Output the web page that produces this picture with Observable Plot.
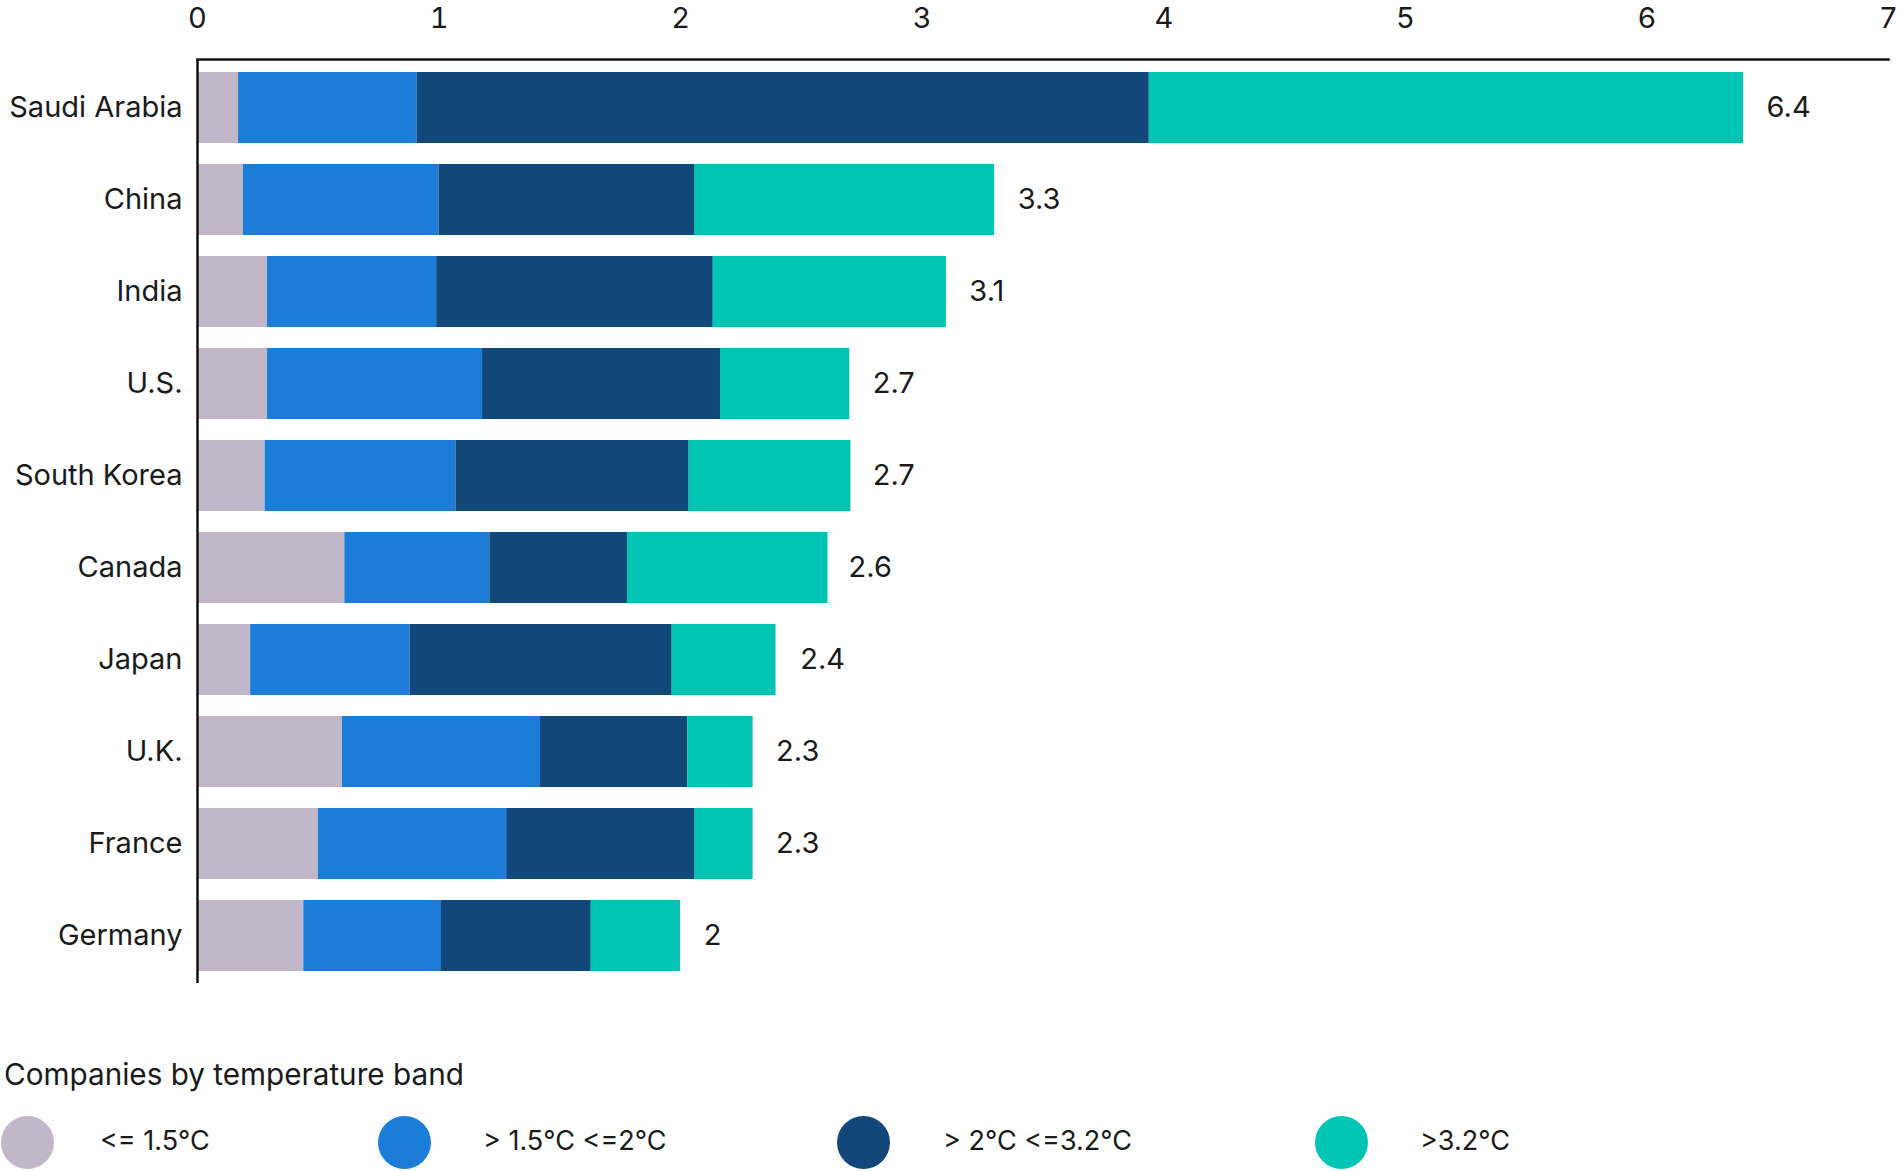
<!DOCTYPE html>
<html>
<head>
<meta charset="utf-8">
<script src="https://cdn.jsdelivr.net/npm/d3@7"></script>
<script src="https://cdn.jsdelivr.net/npm/@observablehq/plot@0.6"></script>
<style>
  html, body { margin: 0; padding: 0; background: #fff; }
  body { width: 1900px; height: 1171px; position: relative; overflow: hidden; font-family: Inter, "Noto Sans", sans-serif; color: #1a1a1a; }
  #chart { position: absolute; left: 0; top: 0; }
  .legend-title { position: absolute; left: 4px; top: 1060px; font-size: 29.7px; line-height: 1; white-space: nowrap; }
  .dot { position: absolute; width: 53px; height: 53px; border-radius: 50%; top: 1116px; }
  .lab { position: absolute; font-size: 27px; line-height: 1; top: 1127px; white-space: nowrap; }
</style>
</head>
<body>
<div id="chart"></div>
<div id="legend"></div>
<script>
const countries = ["Saudi Arabia", "China", "India", "U.S.", "South Korea", "Canada", "Japan", "U.K.", "France", "Germany"];
const bands = ["<= 1.5°C", "> 1.5°C <=2°C", "> 2°C <=3.2°C", ">3.2°C"];
const bandColors = ["#c2b7c8", "#1c7dd9", "#12477a", "#00c4b4"];
const band1 = [0.17, 0.19, 0.29, 0.29, 0.28, 0.61, 0.22, 0.60, 0.50, 0.44];
const band2 = [0.74, 0.81, 0.70, 0.89, 0.79, 0.60, 0.66, 0.82, 0.78, 0.57];
const band3 = [3.03, 1.06, 1.145, 0.985, 0.965, 0.57, 1.085, 0.61, 0.78, 0.62];
const band4 = [2.46, 1.24, 0.965, 0.535, 0.67, 0.83, 0.43, 0.27, 0.24, 0.37];
const totals = [6.4, 3.3, 3.1, 2.7, 2.7, 2.6, 2.4, 2.3, 2.3, 2];
const xTicks = [0, 1, 2, 3, 4, 5, 6, 7];

const series = [band1, band2, band3, band4];
const rows = [];
countries.forEach((c, i) => {
  series.forEach((s, j) => rows.push({country: c, band: bands[j], value: s[i]}));
});
const totalRows = countries.map((c, i) => ({country: c, total: totals[i]}));

const font = "Inter, 'Noto Sans', sans-serif";
const chart = Plot.plot({
  width: 1900,
  height: 990,
  marginTop: 59,
  marginBottom: 7,
  marginLeft: 197,
  marginRight: 12,
  style: {fontFamily: font, fontSize: "29px", color: "#1a1a1a", background: "#fff", overflow: "visible"},
  x: {domain: [0, 7], axis: null},
  y: {domain: countries, paddingInner: 0.23, paddingOuter: 0.115, axis: null},
  color: {domain: bands, range: bandColors},
  marks: [
    Plot.barX(rows, {y: "country", x: "value", fill: "band"}),
    Plot.axisX({anchor: "top", ticks: xTicks, tickSize: 0, tickPadding: 32, tickFormat: d => String(d), fontSize: 29, label: null}),
    Plot.axisY({tickSize: 0, tickPadding: 15, fontSize: 29, label: null}),
    Plot.text(totalRows, {y: "country", x: "total", text: d => String(d.total), textAnchor: "start", dx: 23, fontSize: 29, fill: "#1a1a1a"}),
    Plot.ruleX([0], {stroke: "#111", strokeWidth: 2.5}),
    Plot.frame({anchor: "top", stroke: "#111", strokeWidth: 2.5})
  ]
});
document.getElementById("chart").appendChild(chart);

const legend = document.getElementById("legend");
const title = document.createElement("div");
title.className = "legend-title";
title.textContent = "Companies by temperature band";
legend.appendChild(title);
const dotCenters = [27.5, 404.5, 863.5, 1341];
const labelLefts = [100, 483, 943, 1420];
bands.forEach((b, i) => {
  const d = document.createElement("div");
  d.className = "dot";
  d.style.left = (dotCenters[i] - 26.5) + "px";
  d.style.background = bandColors[i];
  legend.appendChild(d);
  const l = document.createElement("div");
  l.className = "lab";
  l.style.left = labelLefts[i] + "px";
  l.textContent = b;
  legend.appendChild(l);
});
</script>
</body>
</html>
